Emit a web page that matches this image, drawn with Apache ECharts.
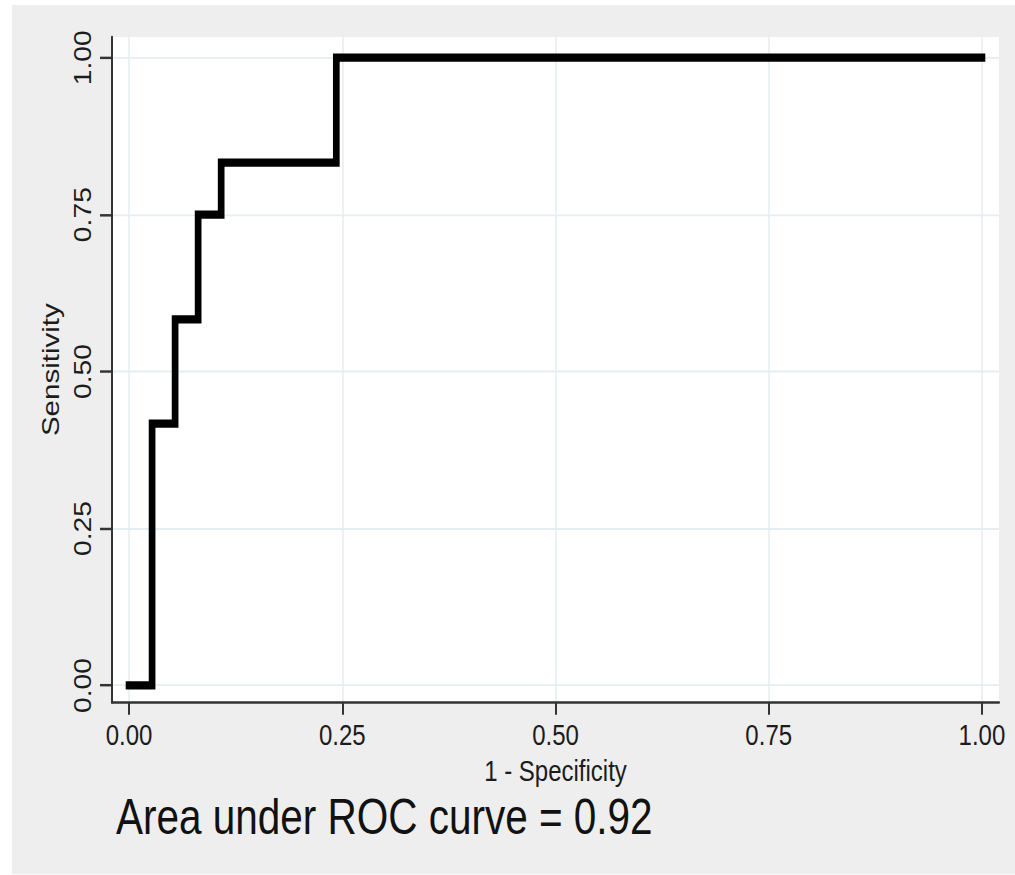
<!DOCTYPE html>
<html>
<head>
<meta charset="utf-8">
<script src="https://cdn.jsdelivr.net/npm/echarts@6/dist/echarts.min.js"></script>
<style>
  html, body { margin: 0; padding: 0; background: #ffffff; overflow: hidden; }
  /* The reference image is stretched vertically by ~1.23; draw at natural size and stretch the same way */
  #chart { position: absolute; left: 12px; top: 5px; width: 1003px; height: 707px;
           transform: scaleY(1.23); transform-origin: 0 0; }
</style>
</head>
<body>
<div id="chart"></div>
<script>
// ROC curve corner points (1 - Specificity, Sensitivity)
const oneMinusSpecificity = [0, 0.027, 0.054, 0.081, 0.108, 0.243, 1];
const sensitivity = [0, 0.417, 0.583, 0.75, 0.833, 1, 1];
const tickValues = [0, 0.25, 0.5, 0.75, 1];
const xTitle = '1 - Specificity';
const yTitle = 'Sensitivity';
const aucText = 'Area under ROC curve = 0.92';

const FONT = "'Liberation Sans', Arial, sans-serif";

const chart = echarts.init(document.getElementById('chart'), null, { renderer: 'svg' });

const points = oneMinusSpecificity.map((x, i) => [x, sensitivity[i]]);
const gridColor = '#e6eef1';
const textColor = '#1c1c1c';

chart.setOption({
  backgroundColor: '#eeeeee',
  animation: false,
  grid: {
    left: 100, right: 16, top: 26, bottom: 140,
    show: true, backgroundColor: '#ffffff', borderWidth: 0,
    containLabel: false
  },
  xAxis: {
    type: 'value',
    min: -0.02, max: 1.02,
    name: xTitle,
    nameLocation: 'middle',
    nameGap: 40,
    nameTextStyle: { fontFamily: FONT, fontSize: 24, color: textColor },
    axisLine: { show: true, onZero: false, lineStyle: { color: '#333333', width: 2 } },
    axisTick: { show: true, inside: false, length: 10, customValues: tickValues, lineStyle: { color: '#333333', width: 2 } },
    axisLabel: {
      customValues: tickValues, margin: 15,
      fontFamily: FONT, fontSize: 24, color: textColor,
      formatter: v => v.toFixed(2)
    },
    splitLine: { show: true, lineStyle: { color: gridColor, width: 1.5 } }
  },
  yAxis: {
    type: 'value',
    min: -0.027, max: 1.033,
    name: yTitle,
    nameLocation: 'middle',
    nameGap: 45,
    nameTextStyle: { fontFamily: FONT, fontSize: 24, color: textColor },
    axisLine: { show: true, onZero: false, lineStyle: { color: '#333333', width: 2 } },
    axisTick: { show: true, inside: false, length: 12, customValues: tickValues, lineStyle: { color: '#333333', width: 2 } },
    axisLabel: {
      customValues: tickValues, margin: 18, rotate: 90,
      fontFamily: FONT, fontSize: 23, color: textColor,
      formatter: v => v.toFixed(2)
    },
    splitLine: { show: true, lineStyle: { color: gridColor, width: 1.5 } }
  },
  graphic: [{
    type: 'text',
    style: {
      x: 104, y: 660,
      text: aucText,
      font: '40.5px ' + FONT,
      fill: '#111111',
      textAlign: 'left',
      textVerticalAlign: 'middle'
    }
  }],
  series: [{
    type: 'line',
    data: points,
    step: 'end',
    showSymbol: false,
    symbol: 'none',
    lineStyle: { color: '#000000', width: 6.7, cap: 'square', join: 'miter' },
    silent: true
  }]
});
</script>
</body>
</html>
